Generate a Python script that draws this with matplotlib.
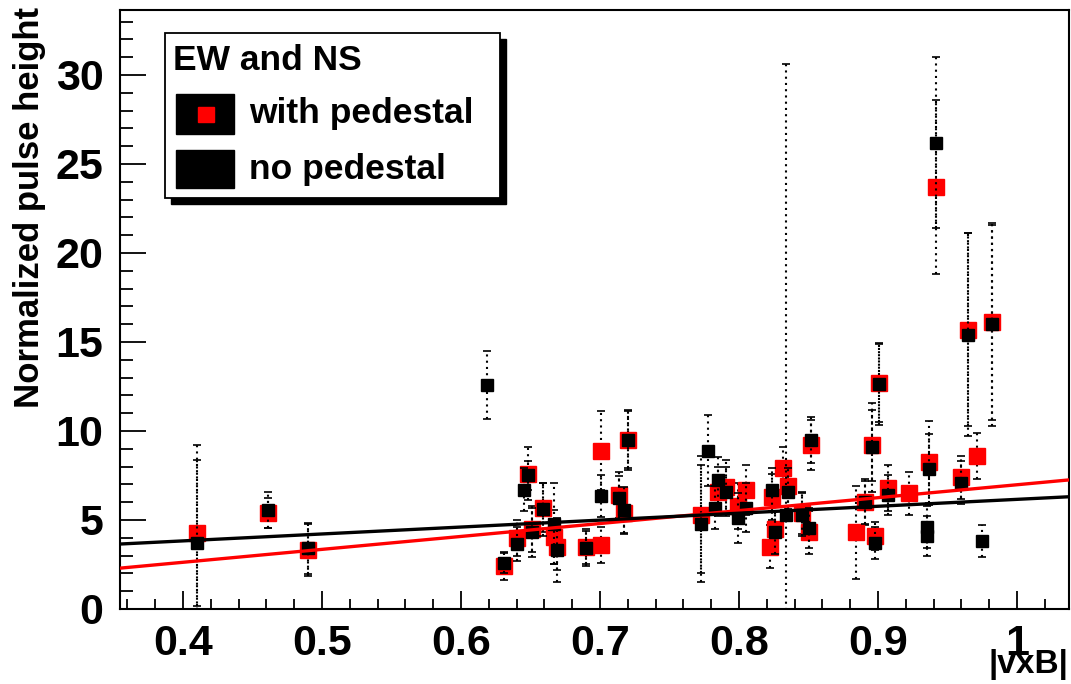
import numpy as np
import matplotlib
matplotlib.use("Agg")
import matplotlib.pyplot as plt
from matplotlib.patches import Rectangle
from matplotlib.ticker import MultipleLocator

plt.rcParams['font.family'] = ['Liberation Sans', 'DejaVu Sans']
plt.rcParams['font.weight'] = 'bold'

# with pedestal (red)
x_ped = [0.410, 0.461, 0.490, 0.631, 0.640, 0.648, 0.651, 0.659, 0.667, 0.669,
         0.690, 0.701, 0.701, 0.714, 0.717, 0.720, 0.773, 0.785, 0.791, 0.799,
         0.805, 0.822, 0.824, 0.826, 0.832, 0.835, 0.845, 0.850, 0.852, 0.884,
         0.891, 0.896, 0.898, 0.901, 0.907, 0.922, 0.937, 0.942, 0.960, 0.965,
         0.971, 0.982]
y_ped = [4.25, 5.4, 3.3, 2.4, 4.0, 7.6, 4.5, 5.7, 4.05, 3.5,
         3.5, 3.6, 8.9, 6.4, 5.4, 9.5, 5.3, 6.6, 6.85, 5.8,
         6.7, 3.5, 6.3, 4.5, 7.9, 6.9, 5.4, 4.3, 9.2, 4.3,
         6.0, 9.2, 4.1, 12.7, 6.8, 6.5, 8.25, 23.7, 7.4, 15.7,
         8.6, 16.1]
err_ped = [4.1, 0.85, 1.45, 0.75, 1.0, 1.5, 1.3, 1.4, 1.5, 1.3,
           1.0, 1.0, 2.2, 1.3, 1.2, 1.7, 3.3, 1.4, 1.5, 1.3,
           1.4, 1.2, 1.3, 1.3, 1.2, 1.3, 1.2, 1.2, 1.4, 2.6,
           1.3, 2.0, 0.8, 2.2, 1.3, 1.2, 2.3, 4.9, 1.2, 5.4,
           1.3, 5.5]

# no pedestal (black)
x_nop = [0.410, 0.461, 0.490, 0.619, 0.631, 0.640, 0.645, 0.648, 0.651, 0.659,
         0.667, 0.669, 0.690, 0.701, 0.714, 0.717, 0.720, 0.773, 0.778, 0.783,
         0.785, 0.791, 0.799, 0.805, 0.824, 0.826, 0.834, 0.835, 0.845, 0.850,
         0.852, 0.891, 0.896, 0.898, 0.901, 0.907, 0.935, 0.935, 0.937, 0.942,
         0.960, 0.965, 0.975, 0.982]
y_nop = [3.7, 5.55, 3.4, 12.6, 2.6, 3.65, 6.7, 7.5, 4.3, 5.6,
         4.8, 3.3, 3.4, 6.35, 6.25, 5.55, 9.5, 4.8, 8.9, 5.7,
         7.25, 6.6, 5.1, 5.7, 6.7, 4.3, 5.3, 6.6, 5.3, 4.55,
         9.5, 6.0, 9.1, 3.7, 12.65, 6.4, 4.6, 4.1, 7.85, 26.2,
         7.1, 15.4, 3.8, 16.0]
err_nop = [5.5, 1.0, 1.45, 1.9, 0.6, 0.95, 1.2, 0.8, 1.4, 1.5,
           2.3, 1.8, 1.0, 1.2, 1.2, 1.3, 1.6, 3.3, 2.0, 1.2,
           1.3, 1.4, 1.4, 1.4, 1.2, 1.2, 25.3, 1.3, 1.2, 1.1,
           1.3, 1.2, 2.5, 0.9, 2.3, 1.1, 1.2, 1.1, 2.0, 4.8,
           1.2, 5.7, 0.9, 5.7]

# linear fits: (intercept, slope)
fit_ped = (-0.28, 7.26)
fit_nop = (2.27, 3.89)

W, H = 1071, 684
fig = plt.figure(figsize=(W / 100, H / 100), dpi=100)
ax = fig.add_axes([120 / W, 1 - 609 / H, 949 / W, 599 / H])

xmin, xmax = 0.3547, 1.0374
ymin, ymax = 0.0, 33.65

eb = dict(fmt='none', ecolor='black', elinewidth=1.5, capsize=3, capthick=1.2)
e1 = ax.errorbar(x_ped, y_ped, yerr=err_ped, zorder=2, **eb)
e1[2][0].set_linestyle((0, (1, 2)))
ax.plot(x_ped, y_ped, 's', color='red', ms=11, mec='red', zorder=3)
e2 = ax.errorbar(x_nop, y_nop, yerr=err_nop, zorder=4, **eb)
e2[2][0].set_linestyle((0, (1, 2)))
ax.plot(x_nop, y_nop, 's', color='black', ms=8, zorder=5)

xs = np.array([xmin, xmax])
ax.plot(xs, fit_ped[0] + fit_ped[1] * xs, color='red', lw=2.4, zorder=6)
ax.plot(xs, fit_nop[0] + fit_nop[1] * xs, color='black', lw=2.4, zorder=7)

ax.set_xlim(xmin, xmax)
ax.set_ylim(ymin, ymax)
ax.xaxis.set_minor_locator(MultipleLocator(0.02))
ax.yaxis.set_major_locator(MultipleLocator(5))
ax.yaxis.set_minor_locator(MultipleLocator(1))
ax.set_xticks([0.4, 0.5, 0.6, 0.7, 0.8, 0.9, 1.0])
ax.set_xticklabels(['0.4', '0.5', '0.6', '0.7', '0.8', '0.9', '1'])
ax.tick_params(axis='both', which='both', direction='in', top=False, right=False,
               labelsize=31, width=1.3)
ax.tick_params(axis='x', which='major', length=13, pad=11)
ax.tick_params(axis='x', which='minor', length=7.5)
ax.tick_params(axis='y', which='major', length=19, pad=12)
ax.tick_params(axis='y', which='minor', length=9.5)
for s in ax.spines.values():
    s.set_linewidth(1.5)

fig.text(30 / W, 1 - 208 / H, 'Normalized pulse height', rotation=90,
         ha='center', va='center', fontsize=25, fontweight='bold')
fig.text(1068 / W, 1 - 665 / H, '|vxB|', ha='right', va='center',
         fontsize=24, fontweight='bold')

# legend box with shadow
def fx(px):
    return px / W

def fy(py):
    return 1 - py / H

fig.add_artist(Rectangle((fx(171), fy(204)), fx(335) - fx(0), (198 - 33) / H,
                         transform=fig.transFigure, facecolor='black',
                         edgecolor='black', zorder=10))
fig.add_artist(Rectangle((fx(165), fy(198)), fx(335) - fx(0), (198 - 33) / H,
                         transform=fig.transFigure, facecolor='white',
                         edgecolor='black', lw=1.3, zorder=11))
fig.text(fx(173), fy(60), 'EW and NS', ha='left', va='center', fontsize=25.5,
         fontweight='bold', zorder=12)
fig.add_artist(Rectangle((fx(176), fy(134)), 58 / W, 40 / H,
                         transform=fig.transFigure, facecolor='black',
                         edgecolor='black', zorder=12))
fig.add_artist(Rectangle((fx(198), fy(122)), 16 / W, 15 / H,
                         transform=fig.transFigure, facecolor='red',
                         edgecolor='red', zorder=13))
fig.text(fx(249), fy(114), 'with pedestal', ha='left', va='center', fontsize=25.5,
         fontweight='bold', zorder=12)
fig.add_artist(Rectangle((fx(176), fy(188)), 58 / W, 38 / H,
                         transform=fig.transFigure, facecolor='black',
                         edgecolor='black', zorder=12))
fig.text(fx(249), fy(169), 'no pedestal', ha='left', va='center', fontsize=25.5,
         fontweight='bold', zorder=12)

fig.savefig('out.png', dpi=100)
